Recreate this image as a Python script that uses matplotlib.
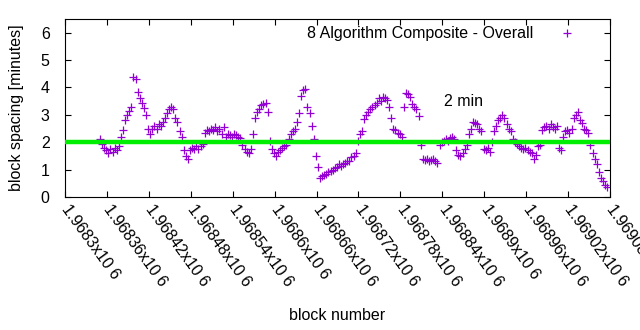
import numpy as np
import matplotlib
matplotlib.use("Agg")
import matplotlib.pyplot as plt
from matplotlib.ticker import FuncFormatter, MultipleLocator

# Block spacing (minutes) sampled every third block, starting at block 1968350
first_block = 1968350
block_step = 3
spacing = [
    2.1, 1.95, 1.8, 1.7, 1.6, 1.75, 1.65, 1.8, 1.7, 1.85,
    2.2, 2.45, 2.8, 3.0, 3.15, 3.3, 4.4, 4.3, 3.85, 3.6,
    3.45, 3.25, 3.0, 2.5, 2.3, 2.5, 2.6, 2.5, 2.65, 2.6,
    2.75, 2.9, 3.05, 3.2, 3.3, 3.2, 2.9, 2.75, 2.4, 2.2,
    1.7, 1.5, 1.4, 1.7, 1.8, 1.75, 1.85, 1.75, 1.85, 1.95,
    2.35, 2.45, 2.4, 2.5, 2.45, 2.55, 2.4, 2.5, 2.3, 2.55,
    2.2, 2.3, 2.25, 2.2, 2.3, 2.25, 2.2, 2.15, 1.9, 1.75,
    1.65, 1.6, 1.75, 2.3, 2.9, 3.1, 3.2, 3.35, 3.4, 3.45,
    3.1, 2.05, 1.75, 1.6, 1.5, 1.65, 1.7, 1.8, 1.85, 1.9,
    2.1, 2.3, 2.4, 2.5, 2.75, 3.05, 3.7, 3.9, 3.95, 3.3,
    3.05, 2.6, 2.1, 1.5, 1.1, 0.7, 0.75, 0.8, 0.85, 0.9,
    0.95, 1.0, 1.05, 1.1, 1.2, 1.15, 1.2, 1.25, 1.3, 1.3,
    1.45, 1.5, 1.6, 2.05, 2.3, 2.4, 2.85, 3.0, 3.1, 3.2,
    3.3, 3.35, 3.45, 3.6, 3.5, 3.65, 3.6, 3.55, 3.3, 2.9,
    2.5, 2.45, 2.35, 2.3, 2.2, 3.3, 3.8, 3.75, 3.65, 3.4,
    3.3, 3.2, 2.95, 1.9, 1.4, 1.35, 1.4, 1.3, 1.35, 1.4,
    1.3, 1.25, 1.9, 2.0, 2.05, 2.1, 2.05, 2.15, 2.2, 2.1,
    1.7, 1.55, 1.5, 1.6, 1.75, 1.9, 2.3, 2.5, 2.75, 2.7,
    2.65, 2.5, 2.4, 1.75, 1.7, 1.8, 1.65, 2.0, 2.4, 2.6,
    2.8, 2.9, 3.0, 2.9, 2.65, 2.5, 2.4, 2.1, 2.0, 1.95,
    1.85, 1.8, 1.75, 1.8, 1.7, 1.65, 1.6, 1.4, 1.55, 1.85,
    1.9, 2.45, 2.55, 2.6, 2.5, 2.65, 2.55, 2.5, 2.6, 1.8,
    1.7, 2.2, 2.4, 2.45, 2.35, 2.5, 2.9, 3.0, 3.1, 2.8,
    2.7, 2.5, 2.45, 2.35, 1.9, 1.6, 1.4, 1.2, 0.9, 0.7,
    0.6, 0.45, 0.35,
]
blocks = first_block + block_step * np.arange(len(spacing))

target_minutes = 2.0
x_min, x_max, x_tick_step = 1968300, 1969080, 60
y_min, y_max = 0, 6.5

purple = "#9400D3"
green = "#00EE00"

plt.rcParams["font.family"] = ["Liberation Sans", "DejaVu Sans"]
plt.rcParams["font.size"] = 11.5

fig = plt.figure(figsize=(6.4, 3.3), dpi=100)
ax = fig.add_axes([65 / 640, 1 - 197 / 330, 545 / 640, 178 / 330])

ax.plot(blocks, spacing, linestyle="none", marker="+", markersize=6.3,
        markeredgewidth=0.9, color=purple,
        label="8 Algorithm Composite - Overall", zorder=2)
ax.axhline(target_minutes, color=green, linewidth=3.2, zorder=3)
ax.text(1968843, 3.47, "2 min", ha="left", va="center")

ax.set_xlim(x_min, x_max)
ax.set_ylim(y_min, y_max)
ax.xaxis.set_major_locator(MultipleLocator(x_tick_step))
ax.yaxis.set_major_locator(MultipleLocator(1))
ax.xaxis.set_major_formatter(FuncFormatter(lambda v, p: f"{v / 1e6:.6g}x10 6"))
ax.tick_params(direction="in", length=4, width=0.8, top=True, right=True)
ax.tick_params(axis="y", pad=11)
ax.tick_params(axis="x", pad=7)
for lbl in ax.get_xticklabels():
    lbl.set_rotation(-54)
    lbl.set_rotation_mode("anchor")
    lbl.set_ha("left")
    lbl.set_va("center")

ax.set_xlabel("block number")
ax.xaxis.set_label_coords(0.5, -0.625)
ax.set_ylabel("block spacing [minutes]", labelpad=12)

ax.legend(loc="upper right", bbox_to_anchor=(0.97, 1.04), frameon=False,
          markerfirst=False, handlelength=1.5, handletextpad=1.4)

fig.savefig("out.png", dpi=100)
